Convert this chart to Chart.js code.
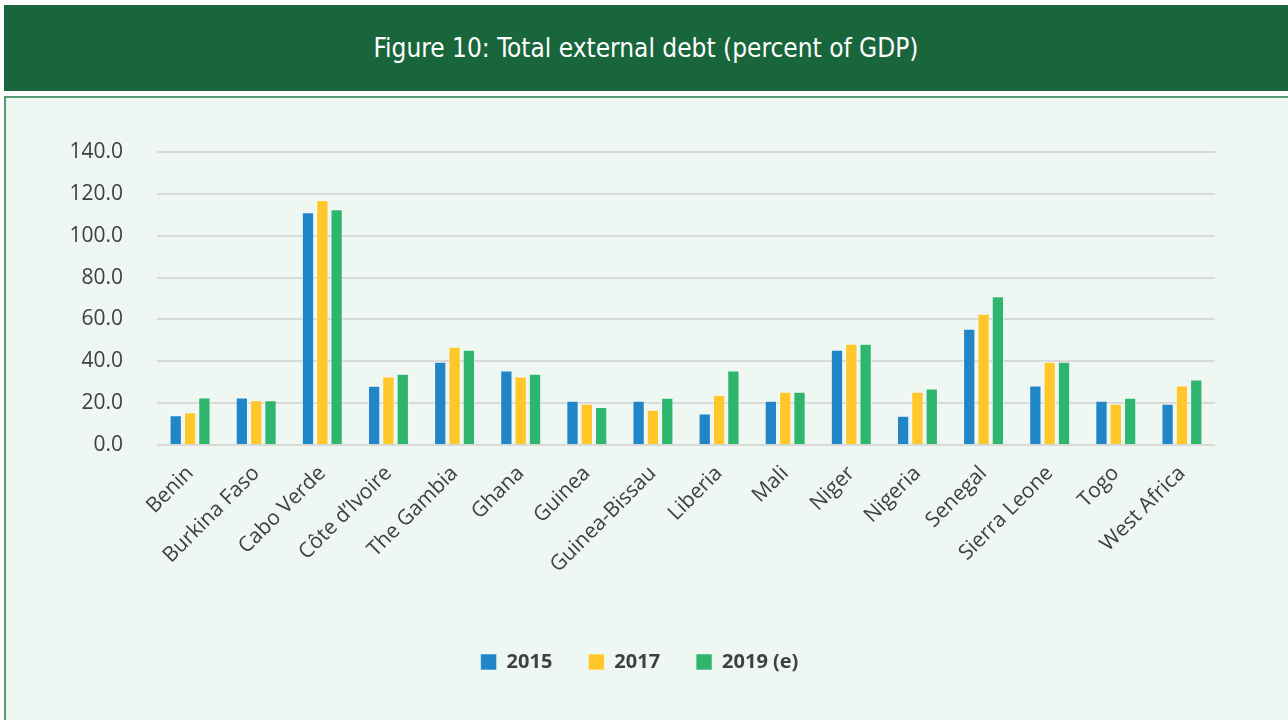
<!DOCTYPE html>
<html>
<head>
<meta charset="utf-8">
<script src="https://cdn.jsdelivr.net/npm/chart.js@4/dist/chart.umd.min.js"></script>
<style>
  html, body { margin: 0; padding: 0; background: #ffffff; }
  body { width: 1288px; height: 720px; position: relative; overflow: hidden; }
  .banner {
    position: absolute; left: 4px; top: 5px; width: 1284px; height: 86px;
    background: #19663d; color: #ffffff;
    display: flex; align-items: center; justify-content: center;
    font-family: "DejaVu Sans Condensed", "Liberation Sans Narrow", sans-serif;
    font-stretch: condensed;
    font-size: 26px; font-weight: 400;
  }
  .panel {
    position: absolute; left: 4px; top: 96px; width: 1290px; height: 630px;
    background: #eef7f2; border-left: 2px solid #5a9a72; border-top: 2px solid #5a9a72;
  }
  #chart { position: absolute; left: 0; top: 0; }
</style>
</head>
<body>
<div class="banner">Figure 10: Total external debt (percent of GDP)</div>
<div class="panel"></div>
<canvas id="chart" width="1288" height="720"></canvas>
<script>
/* countries and the three series, percent of GDP */
const countries = ["Benin", "Burkina Faso", "Cabo Verde", "Côte d’Ivoire", "The Gambia", "Ghana",
  "Guinea", "Guinea-Bissau", "Liberia", "Mali", "Niger", "Nigeria", "Senegal", "Sierra Leone",
  "Togo", "West Africa"];
const years = ["2015", "2017", "2019 (e)"];
const debt2015 = [14.2, 22.7, 111.2, 28.3, 39.8, 35.6, 21.1, 21.1, 15.1, 21.1, 45.5, 14.0, 55.6, 28.4, 21.1, 19.7];
const debt2017 = [15.7, 21.4, 117.1, 32.7, 47.0, 32.7, 19.7, 16.9, 24.0, 25.5, 48.4, 25.5, 62.7, 39.8, 19.7, 28.4];
const debt2019 = [22.7, 21.4, 112.7, 34.1, 45.5, 34.1, 18.2, 22.6, 35.6, 25.5, 48.4, 27.0, 71.1, 39.8, 22.6, 31.3];
const yTicks = [0, 20, 40, 60, 80, 100, 120, 140];
const colors = ["#2186c8", "#ffc729", "#2eb66e"];

const font = "'Open Sans', 'Noto Sans', sans-serif";

const series = [debt2015, debt2017, debt2019].map((values, i) => ({
  label: years[i],
  data: values,
  backgroundColor: colors[i],
  borderColor: "rgba(255,255,255,0.5)",
  borderWidth: 1,
  barPercentage: 0.86,
  categoryPercentage: 0.65,
}));

new Chart(document.getElementById("chart"), {
  type: "bar",
  data: { labels: countries, datasets: series },
  options: {
    responsive: false,
    animation: false,
    // left padding keeps the legend centred on the page
    layout: { padding: { left: 64, right: 73, top: 152, bottom: 38 } },
    scales: {
      x: {
        grid: { display: false },
        border: { display: false },
        ticks: {
          color: "#404040",
          font: { family: font, size: 21 },
          maxRotation: 45,
          minRotation: 45,
          padding: 8,
          autoSkip: false,
        },
        afterFit: (scale) => { scale.height = 171; },
      },
      y: {
        min: 0,
        max: 140,
        afterBuildTicks: (scale) => { scale.ticks = yTicks.map((v) => ({ value: v })); },
        grid: { color: "#d9d9d9", lineWidth: 2, drawTicks: false },
        border: { display: false },
        ticks: {
          color: "#404040",
          font: { family: font, size: 21 },
          padding: 34,
          callback: (v) => v.toFixed(1),
        },
        afterFit: (scale) => { scale.width = 93; },
      },
    },
    plugins: {
      title: { display: false },
      tooltip: { enabled: false },
      legend: {
        position: "bottom",
        labels: {
          boxWidth: 16,
          boxHeight: 16,
          padding: 36,
          color: "#404040",
          font: { family: font, size: 20, weight: "bold" },
        },
      },
    },
  },
});
</script>
</body>
</html>
